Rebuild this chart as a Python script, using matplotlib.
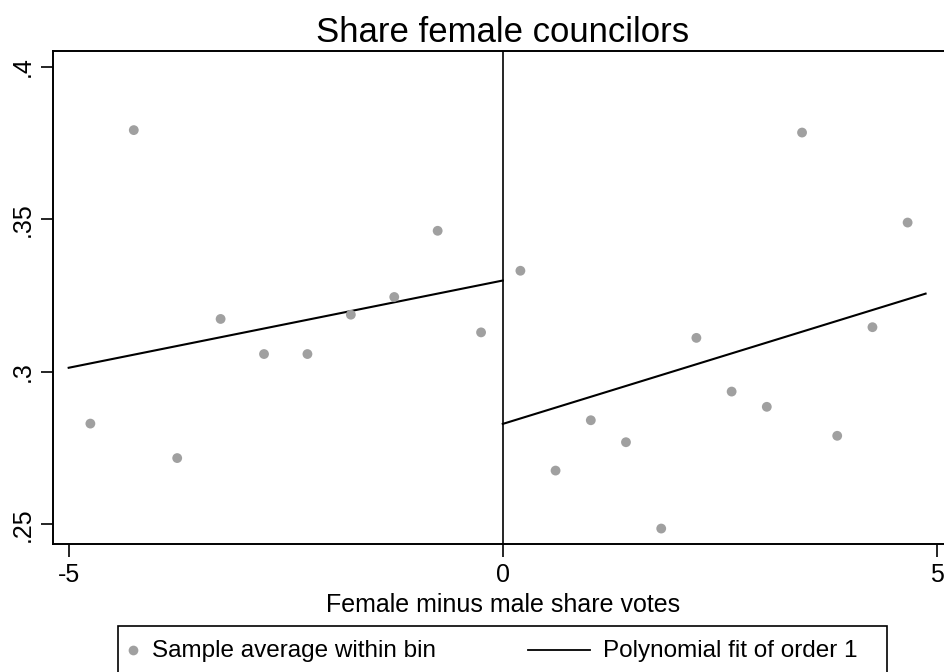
import numpy as np
import matplotlib
matplotlib.use("Agg")
import matplotlib.pyplot as plt
from matplotlib.lines import Line2D
from matplotlib.patches import Rectangle

plt.rcParams["font.family"] = ["Liberation Sans", "DejaVu Sans"]

# Binned sample averages, left of the cutoff
left_x = [-4.75, -4.25, -3.75, -3.25, -2.75, -2.25, -1.75, -1.25, -0.75, -0.25]
left_y = [0.2830, 0.3792, 0.2717, 0.3173, 0.3058, 0.3058, 0.3187, 0.3245, 0.3462, 0.3129]

# Binned sample averages, right of the cutoff
right_x = [0.203, 0.608, 1.014, 1.419, 1.825, 2.230, 2.636, 3.041, 3.447, 3.852, 4.258, 4.663]
right_y = [0.3331, 0.2676, 0.2841, 0.2769, 0.2486, 0.3111, 0.2935, 0.2885,
           0.3784, 0.2790, 0.3146, 0.3489]

# Linear fits on each side (endpoints)
fit_left_x = [-5.0, 0.0]
fit_left_y = [0.3013, 0.3299]
fit_right_x = [0.0, 4.87]
fit_right_y = [0.2829, 0.3256]

xticks = [-5, 0, 5]
xtick_labels = ["-5", "0", "5"]
yticks = [0.25, 0.30, 0.35, 0.40]
ytick_labels = [".25", ".3", ".35", ".4"]

legend_labels = ["Sample average within bin", "Polynomial fit of order 1"]

dot_color = "#a0a0a0"
W, H = 944, 672

fig = plt.figure(figsize=(W / 100, H / 100), dpi=100)
ax = fig.add_axes([0.0561, 0.1905, 0.953, 0.7341])

ax.scatter(left_x, left_y, s=50, color=dot_color, edgecolors="none", zorder=3)
ax.scatter(right_x, right_y, s=50, color=dot_color, edgecolors="none", zorder=3)
ax.plot(fit_left_x, fit_left_y, color="black", lw=1.5, zorder=2)
ax.plot(fit_right_x, fit_right_y, color="black", lw=1.5, zorder=2)
ax.axvline(0, color="black", lw=1.2, zorder=1)

ax.set_xlim(-5.181, 5.181)
ax.set_ylim(0.24354, 0.40524)

ax.set_xticks(xticks)
ax.set_xticklabels(xtick_labels)
ax.set_yticks(yticks)
ax.set_yticklabels(ytick_labels, rotation=90, va="center")
ax.tick_params(axis="both", direction="out", length=9, width=1.2,
               labelsize=18, color="black")
ax.tick_params(axis="x", pad=5)
ax.tick_params(axis="y", pad=4)

for side in ["left", "top", "bottom"]:
    ax.spines[side].set_linewidth(1.4)
    ax.spines[side].set_color("black")
ax.spines["right"].set_visible(False)

ax.set_title("Share female councilors", fontsize=25, pad=6)
ax.set_xlabel("Female minus male share votes", fontsize=18, labelpad=4)

# Legend box below the plot, drawn in figure pixels
def fx(px):
    return px / W

def fy(py):
    return 1 - py / H

fig.add_artist(Rectangle((fx(118), fy(690)), fx(887) - fx(118), fy(626) - fy(690),
                         transform=fig.transFigure, fill=False,
                         edgecolor="black", lw=1.2))
fig.add_artist(Line2D([fx(133)], [fy(650)], transform=fig.transFigure,
                      marker="o", ls="none", markersize=7,
                      color=dot_color, markeredgewidth=0))
fig.text(fx(152), fy(657), legend_labels[0], fontsize=17.5, va="baseline", ha="left")
fig.add_artist(Line2D([fx(528), fx(590)], [fy(650), fy(650)],
                      transform=fig.transFigure, color="black", lw=1.3))
fig.text(fx(603), fy(657), legend_labels[1], fontsize=17.5, va="baseline", ha="left")

fig.savefig("out.png", dpi=100)
